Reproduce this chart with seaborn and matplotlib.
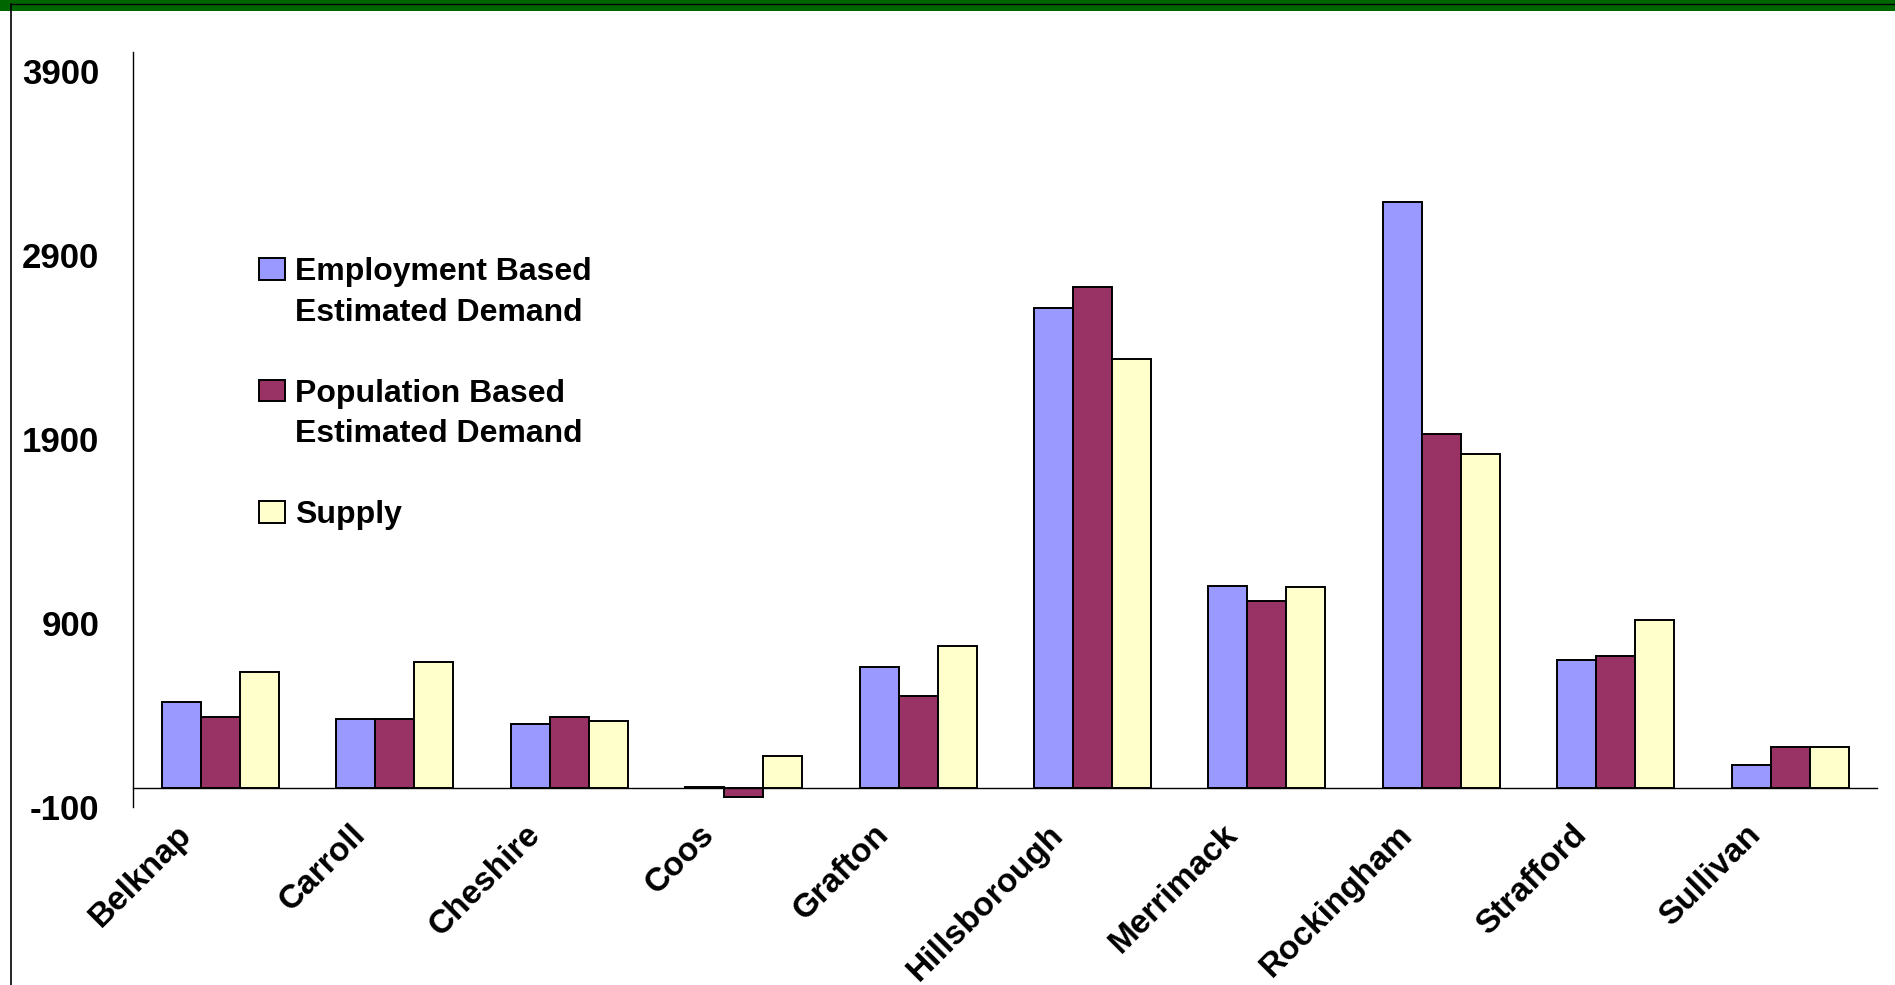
import numpy as np
import pandas as pd
import matplotlib
matplotlib.use("Agg")
import matplotlib.pyplot as plt
import matplotlib.transforms as mtransforms
from matplotlib.patches import Patch, Rectangle
from matplotlib.lines import Line2D
import seaborn as sns

# County-level child care figures
counties = ["Belknap", "Carroll", "Cheshire", "Coos", "Grafton",
            "Hillsborough", "Merrimack", "Rockingham", "Strafford", "Sullivan"]
employment_demand = [471, 375, 351, 8, 659, 2609, 1099, 3185, 696, 127]
population_demand = [386, 378, 386, -45, 500, 2724, 1016, 1925, 717, 224]
supply = [630, 686, 366, 177, 772, 2333, 1092, 1815, 913, 224]

series_names = ["Employment Based Estimated Demand",
                "Population Based Estimated Demand",
                "Supply"]
series_colors = ["#9999FF", "#993366", "#FFFFCC"]
y_ticks = [-100, 900, 1900, 2900, 3900]

df = pd.DataFrame({
    "county": counties * 3,
    "series": np.repeat(series_names, len(counties)),
    "value": employment_demand + population_demand + supply,
})

sns.set_style("white")
plt.rcParams["font.family"] = ["Liberation Sans", "DejaVu Sans"]
plt.rcParams["font.weight"] = "bold"
plt.rcParams["text.color"] = "black"

W, H = 1895, 985
fig = plt.figure(figsize=(W / 100, H / 100), dpi=100)
fig.patch.set_facecolor("white")

# plot area in figure pixels
left_px, right_px = 133.3, 1877.3
top_px, bottom_px = 52.3, 806.7
ax = fig.add_axes([left_px / W, 1 - bottom_px / H,
                   (right_px - left_px) / W, (bottom_px - top_px) / H])

sns.barplot(data=df, x="county", y="value", hue="series",
            order=counties, hue_order=series_names,
            palette=series_colors, saturation=1,
            width=0.672, gap=0, dodge=True,
            edgecolor="black", linewidth=1.4,
            errorbar=None, legend=False, ax=ax)

ax.set_xlim(-0.5, len(counties) - 0.5)
ax.set_ylim(-100, 4000)
ax.set_xlabel("")
ax.set_ylabel("")

# axes: category axis crosses the value axis at zero
for side in ("top", "right"):
    ax.spines[side].set_visible(False)
ax.spines["bottom"].set_position(("data", 0))
ax.spines["bottom"].set_color("black")
ax.spines["bottom"].set_linewidth(1.0)
ax.spines["left"].set_color("black")
ax.spines["left"].set_linewidth(1.0)

ax.set_yticks(y_ticks)
ax.set_yticklabels([str(v) for v in y_ticks], fontsize=25, fontweight="bold",
                   color="black")
ax.tick_params(axis="y", length=9.1, width=1.0, color="#444444", pad=15.5)

ax.set_xticks(range(len(counties)))
ax.set_xticks(np.arange(-0.5, len(counties), 1.0), minor=True)
ax.set_xticklabels(counties, rotation=45, ha="right", va="center",
                   rotation_mode="anchor", fontsize=24, fontweight="bold",
                   color="black")
ax.tick_params(axis="x", which="major", length=0, pad=30)
ax.tick_params(axis="x", which="minor", length=7.7, width=1.0,
               color="#444444")
shift = mtransforms.ScaledTranslation(-34 / 100, 0, fig.dpi_scale_trans)
for lbl in ax.get_xticklabels():
    lbl.set_transform(lbl.get_transform() + shift)

# legend: each label on two lines with the swatch beside the first line
blank = Patch(facecolor="none", edgecolor="none")
handles = [Patch(facecolor=series_colors[0], edgecolor="black", linewidth=1.4),
           blank, blank,
           Patch(facecolor=series_colors[1], edgecolor="black", linewidth=1.4),
           blank, blank,
           Patch(facecolor=series_colors[2], edgecolor="black", linewidth=1.4)]
labels = ["Employment Based", "Estimated Demand", " ",
          "Population Based", "Estimated Demand", " ",
          "Supply"]
leg = ax.legend(handles, labels, loc="upper left",
                bbox_to_anchor=(259.3 / W, 1 - 257 / H),
                bbox_transform=fig.transFigure, frameon=False,
                prop={"weight": "bold", "size": 23},
                handlelength=0.815, handleheight=0.66, handletextpad=0.31,
                labelspacing=0.33, borderpad=0, borderaxespad=0)
for t in leg.get_texts():
    t.set_color("black")

# page frame: green band along the top and a thin black border
fig.add_artist(Rectangle((0, 1 - 11 / H), 1, 11 / H, transform=fig.transFigure,
                         facecolor="#006600", edgecolor="none", zorder=0))
fig.add_artist(Line2D([11.3 / W, 1], [1 - 4.3 / H] * 2, transform=fig.transFigure,
                      color="black", linewidth=1.0))
fig.add_artist(Line2D([11.3 / W] * 2, [0, 1 - 4.3 / H], transform=fig.transFigure,
                      color="black", linewidth=1.2))

fig.savefig("out.png", dpi=100, facecolor="white")
